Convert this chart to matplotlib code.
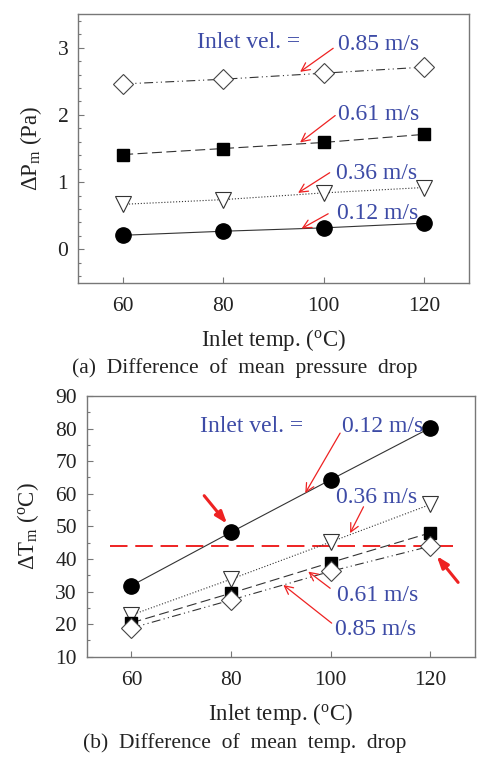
import matplotlib
matplotlib.use("Agg")
import matplotlib.pyplot as plt
from matplotlib.ticker import MultipleLocator

plt.rcParams['font.family'] = ['Liberation Serif', 'DejaVu Serif']
plt.rcParams['mathtext.fontset'] = 'custom'
plt.rcParams['mathtext.rm'] = 'Liberation Serif'
plt.rcParams['mathtext.it'] = 'Liberation Serif:italic'

# ---------------- data ----------------
temps = [60, 80, 100, 120]
velocities = ["0.12 m/s", "0.36 m/s", "0.61 m/s", "0.85 m/s"]

dp_012 = [0.21, 0.27, 0.32, 0.39]
dp_036 = [0.67, 0.74, 0.84, 0.92]
dp_061 = [1.41, 1.50, 1.59, 1.71]
dp_085 = [2.46, 2.53, 2.62, 2.71]

dt_012 = [31.8, 48.2, 64.3, 80.2]
dt_036 = [22.8, 33.8, 45.2, 56.7]
dt_061 = [20.4, 29.5, 38.9, 48.0]
dt_085 = [18.8, 27.4, 36.2, 43.9]

ref_line = 44.0

dp_series = [dp_012, dp_036, dp_061, dp_085]
dt_series = [dt_012, dt_036, dt_061, dt_085]

# ---------------- styles ----------------
blue = '#3d4ba6'
red = '#ee2222'
linec = '#333333'
styles = [
    dict(marker='o', mfc='black', mec='black', ms=11, ls='-'),
    dict(marker='v', mfc='white', mec='#333333', ms=11, ls=':', mew=0.8),
    dict(marker='s', mfc='black', mec='black', ms=9, ls=(0, (9, 4))),
    dict(marker='D', mfc='white', mec='#444444', ms=10.5, ls=(0, (8, 3, 1, 3, 1, 3)), mew=0.8),
]

fig = plt.figure(figsize=(4.99, 7.60), dpi=100)
ax1 = fig.add_axes([0.1563, 0.6276, 0.7837, 0.354])
ax2 = fig.add_axes([0.1737, 0.1359, 0.7783, 0.3431])

for ax in (ax1, ax2):
    for sp in ax.spines.values():
        sp.set_color('#777777')
        sp.set_linewidth(1.0)
    ax.tick_params(which='both', direction='in', top=False, right=False,
                   labelsize=15.5, colors='#777777', labelcolor='#222222')
    ax.tick_params(which='major', length=4, width=0.8)
    ax.tick_params(which='minor', length=2.5, width=0.8)
    ax.tick_params(axis='x', pad=10)
    ax.tick_params(axis='y', pad=7)
    ax.set_xlim(51, 129)
    ax.set_xticks(temps)
    ax.set_xlabel('Inlet temp. ($^\\mathregular{o}$C)', fontsize=16.5, color='#222222', labelpad=8)

# ---- top panel ----
for vals, st in zip(dp_series, styles):
    ax1.plot(temps, vals, color=linec, lw=0.8, **st)
ax1.set_ylim(-0.5, 3.5)
ax1.set_yticks([0, 1, 2, 3])
ax1.yaxis.set_minor_locator(MultipleLocator(0.2))
ax1.set_ylabel('$\\Delta$P$_\\mathregular{m}$ (Pa)', fontsize=16.5, color='#222222', labelpad=10)

ax1.text(85.1, 3.07, 'Inlet vel. =', color=blue, fontsize=17, va='center', ha='center')
top_lab = [(102.6, 0.53), (102.4, 1.13), (102.9, 2.0), (102.9, 3.05)]
top_arrow_from = [(100.9, 0.53), (101.2, 1.14), (102.3, 1.99), (101.9, 2.99)]
top_arrow_to = [(95.6, 0.31), (94.9, 0.84), (95.3, 1.59), (95.3, 2.64)]
for lab, pos, af, at in zip(velocities, top_lab, top_arrow_from, top_arrow_to):
    ax1.text(pos[0], pos[1], lab, color=blue, fontsize=17, va='center', ha='left')
    ax1.annotate('', xy=at, xytext=af,
                 arrowprops=dict(arrowstyle='->,head_length=0.6,head_width=0.3',
                                 color=red, lw=0.9, shrinkA=0, shrinkB=0))

# ---- bottom panel ----
for vals, st in zip(dt_series, styles):
    ax2.plot(temps, vals, color=linec, lw=0.8, **st)
ax2.plot([55.6, 124.6], [ref_line, ref_line], color=red, lw=1.4, ls=(0, (9, 4)), zorder=1)
ax2.set_ylim(10, 90)
ax2.set_yticks(range(10, 91, 10))
ax2.yaxis.set_minor_locator(MultipleLocator(5))
ax2.set_ylabel('$\\Delta$T$_\\mathregular{m}$ ($^\\mathregular{o}$C)', fontsize=16.5, color='#222222', labelpad=10)

ax2.text(84.2, 80.6, 'Inlet vel. =', color=blue, fontsize=17, va='center', ha='center')
bot_lab = [(102.3, 80.6), (101.0, 58.8), (101.3, 28.8), (100.9, 18.5)]
bot_arrow_from = [(101.9, 78.6), (106.6, 56.0), (99.9, 31.0), (100.2, 20.3)]
bot_arrow_to = [(94.9, 60.2), (103.9, 47.9), (95.5, 36.1), (90.5, 32.0)]
for lab, pos, af, at in zip(velocities, bot_lab, bot_arrow_from, bot_arrow_to):
    ax2.text(pos[0], pos[1], lab, color=blue, fontsize=17, va='center', ha='left')
    ax2.annotate('', xy=at, xytext=af,
                 arrowprops=dict(arrowstyle='->,head_length=0.6,head_width=0.3',
                                 color=red, lw=0.9, shrinkA=0, shrinkB=0))

thick_from = [(74.6, 59.4), (125.6, 32.8)]
thick_to = [(79.2, 50.8), (121.3, 40.9)]
for af, at in zip(thick_from, thick_to):
    ax2.annotate('', xy=at, xytext=af,
                 arrowprops=dict(arrowstyle='-|>,head_length=0.7,head_width=0.25',
                                 color=red, lw=2.2, shrinkA=0, shrinkB=0))

fig.text(0.491, 1 - 368 / 760, '(a)  Difference  of  mean  pressure  drop',
         ha='center', va='center', fontsize=15.5, color='#222222')
fig.text(0.491, 1 - 743 / 760, '(b)  Difference  of  mean  temp.  drop',
         ha='center', va='center', fontsize=15.5, color='#222222')

fig.savefig('out.png', dpi=100)
